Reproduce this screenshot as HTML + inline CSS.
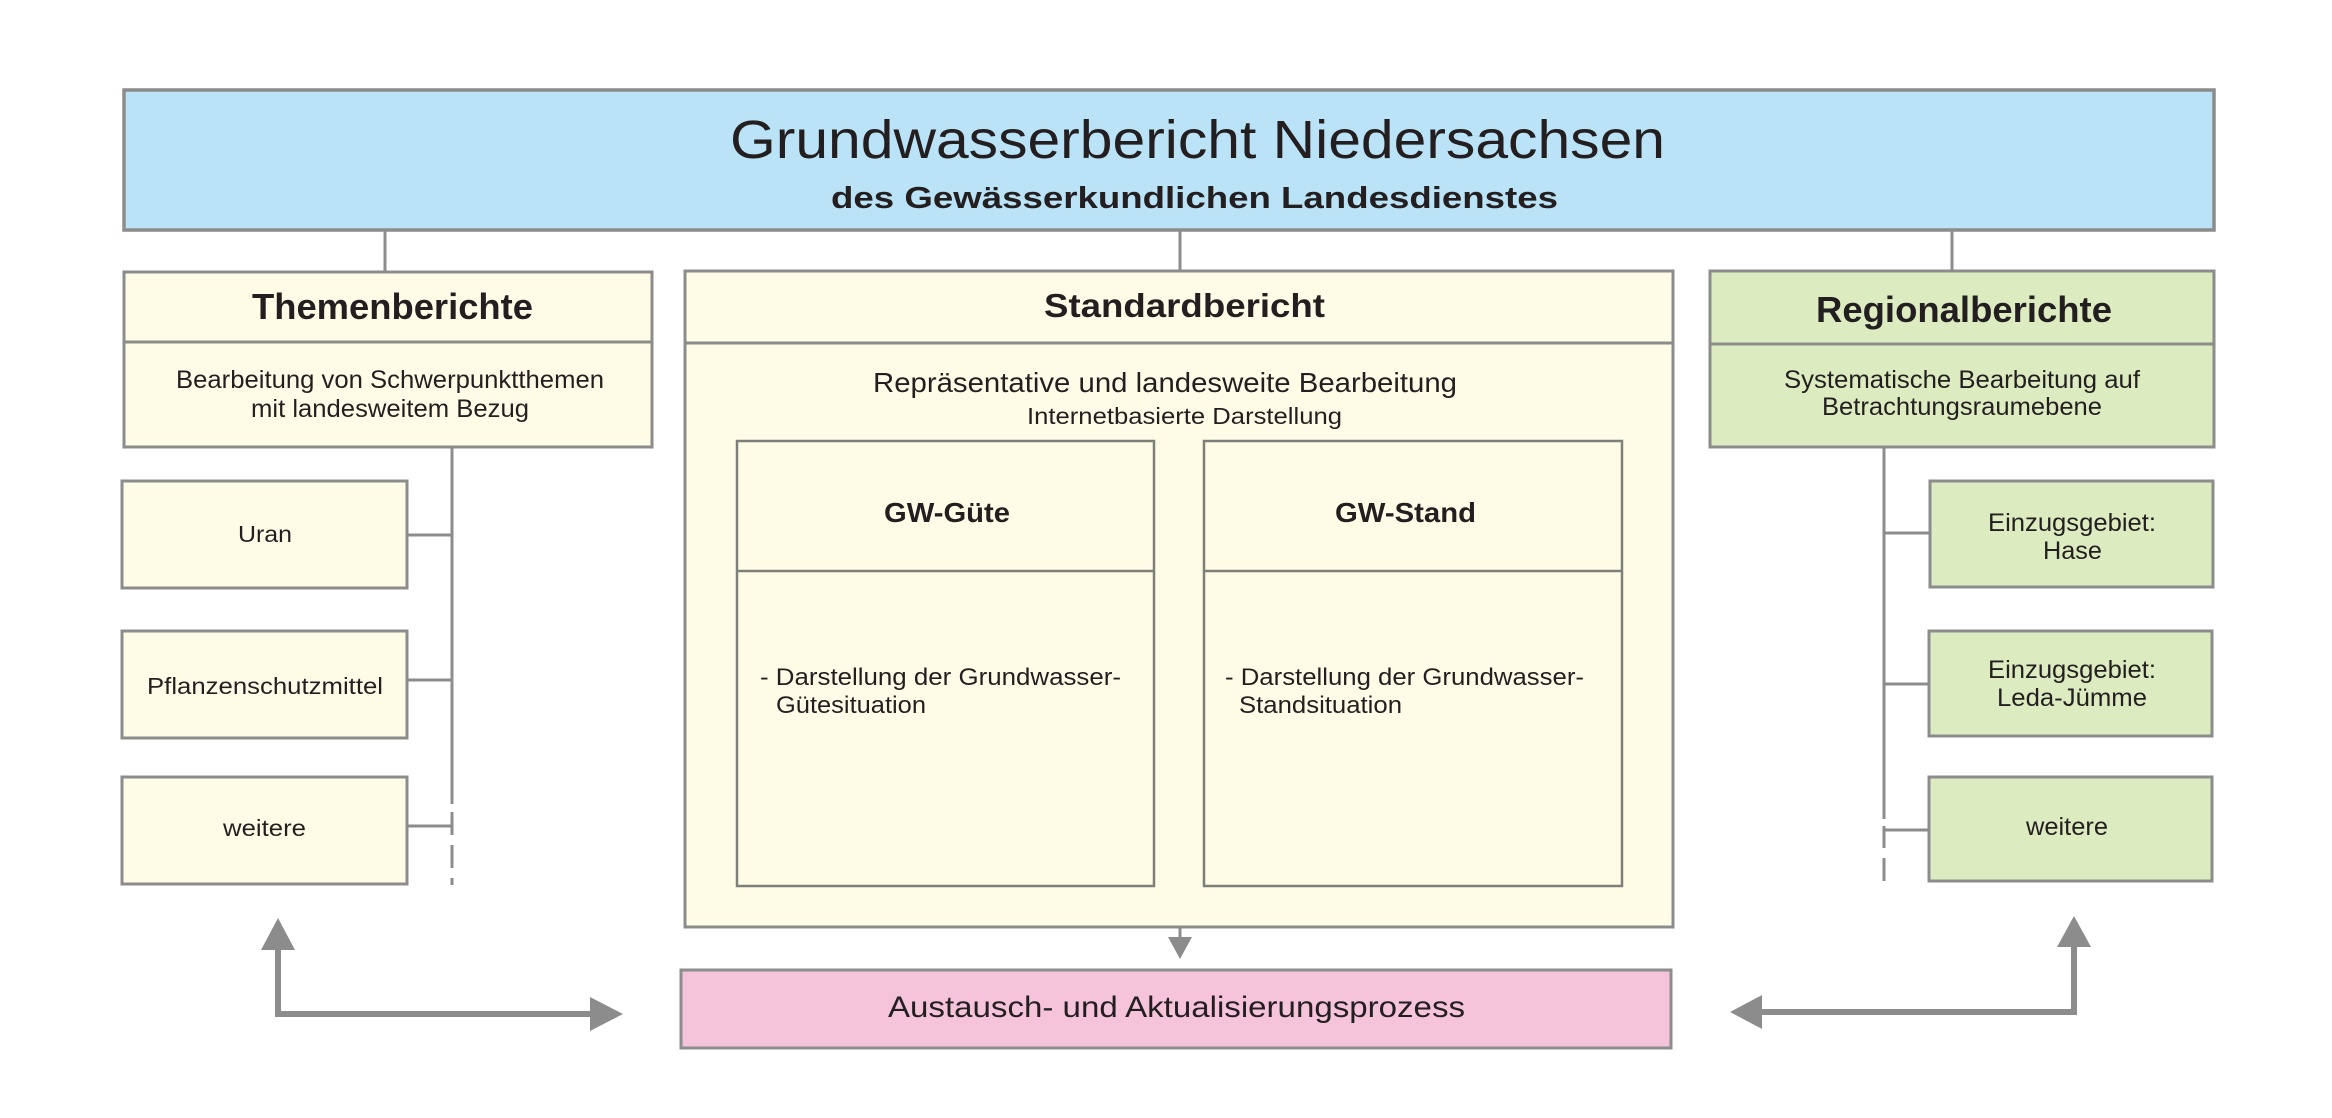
<!DOCTYPE html>
<html><head><meta charset="utf-8"><style>
html,body{margin:0;padding:0;background:#fff;}
svg{display:block;}
text{font-family:"Liberation Sans",Arial,sans-serif;fill:#231f20;}
</style></head><body>
<svg width="2332" height="1118" viewBox="0 0 2332 1118" xmlns="http://www.w3.org/2000/svg">
<g stroke="#8c8c8c" stroke-width="3" fill="none">
<!-- connectors top -->
<line x1="385" y1="230" x2="385" y2="272"/>
<line x1="1180" y1="230" x2="1180" y2="271"/>
<line x1="1952" y1="230" x2="1952" y2="271"/>
<!-- left tree -->
<line x1="452" y1="447" x2="452" y2="804"/>
<line x1="452" y1="812" x2="452" y2="835"/>
<line x1="452" y1="845" x2="452" y2="868"/>
<line x1="452" y1="878" x2="452" y2="885"/>
<line x1="407" y1="535" x2="452" y2="535"/>
<line x1="407" y1="680" x2="452" y2="680"/>
<line x1="407" y1="826" x2="452" y2="826"/>
<!-- right tree -->
<line x1="1884" y1="447" x2="1884" y2="819"/>
<line x1="1884" y1="826" x2="1884" y2="848"/>
<line x1="1884" y1="858" x2="1884" y2="881"/>
<line x1="1884" y1="533" x2="1930" y2="533"/>
<line x1="1884" y1="684" x2="1929" y2="684"/>
<line x1="1884" y1="830" x2="1929" y2="830"/>
</g>
<!-- boxes -->
<rect x="124" y="90" width="2090" height="140" fill="#bbe3f7" stroke="#8c8c8c" stroke-width="3.5"/>
<rect x="124" y="272" width="528" height="175" fill="#fefce6" stroke="#8c8c8c" stroke-width="3"/>
<line x1="124" y1="342" x2="652" y2="342" stroke="#8c8c8c" stroke-width="3"/>
<rect x="685" y="271" width="988" height="656" fill="#fefce6" stroke="#8c8c8c" stroke-width="3"/>
<line x1="685" y1="343" x2="1673" y2="343" stroke="#8c8c8c" stroke-width="3"/>
<rect x="737" y="441" width="417" height="445" fill="#fefce6" stroke="#7f7f7a" stroke-width="2.5"/>
<line x1="737" y1="571" x2="1154" y2="571" stroke="#7f7f7a" stroke-width="2.5"/>
<rect x="1204" y="441" width="418" height="445" fill="#fefce6" stroke="#7f7f7a" stroke-width="2.5"/>
<line x1="1204" y1="571" x2="1622" y2="571" stroke="#7f7f7a" stroke-width="2.5"/>
<rect x="1710" y="271" width="504" height="176" fill="#dcebc0" stroke="#8c8c8c" stroke-width="3"/>
<line x1="1710" y1="344" x2="2214" y2="344" stroke="#8c8c8c" stroke-width="3"/>
<rect x="122" y="481" width="285" height="107" fill="#fefce6" stroke="#8c8c8c" stroke-width="3"/>
<rect x="122" y="631" width="285" height="107" fill="#fefce6" stroke="#8c8c8c" stroke-width="3"/>
<rect x="122" y="777" width="285" height="107" fill="#fefce6" stroke="#8c8c8c" stroke-width="3"/>
<rect x="1930" y="481" width="283" height="106" fill="#dcebc0" stroke="#8c8c8c" stroke-width="3"/>
<rect x="1929" y="631" width="283" height="105" fill="#dcebc0" stroke="#8c8c8c" stroke-width="3"/>
<rect x="1929" y="777" width="283" height="104" fill="#dcebc0" stroke="#8c8c8c" stroke-width="3"/>
<rect x="681" y="970" width="990" height="78" fill="#f5c3da" stroke="#8c8c8c" stroke-width="3"/>
<!-- arrows -->
<g stroke="#8c8c8c" stroke-width="6" fill="none">
<polyline points="278,945 278,1014 595,1014"/>
<polyline points="2074,945 2074,1012 1758,1012"/>
</g>
<line x1="1180" y1="927" x2="1180" y2="940" stroke="#8c8c8c" stroke-width="3"/>
<g fill="#8c8c8c">
<polygon points="278,918 261,950 295,950"/>
<polygon points="623,1014 590,997 590,1031"/>
<polygon points="2074,916 2057,947 2091,947"/>
<polygon points="1730,1012 1762,995 1762,1029"/>
<polygon points="1180,959 1168,937 1192,937"/>
</g>
<!-- texts -->
<text x="730" y="158" font-size="54" textLength="935" lengthAdjust="spacingAndGlyphs">Grundwasserbericht Niedersachsen</text>
<text x="831" y="208" font-size="31" font-weight="bold" textLength="727" lengthAdjust="spacingAndGlyphs">des Gewässerkundlichen Landesdienstes</text>
<text x="252" y="319" font-size="36" font-weight="bold" textLength="281" lengthAdjust="spacingAndGlyphs">Themenberichte</text>
<text x="176" y="388" font-size="25" textLength="428" lengthAdjust="spacingAndGlyphs">Bearbeitung von Schwerpunktthemen</text>
<text x="251" y="417" font-size="25" textLength="278" lengthAdjust="spacingAndGlyphs">mit landesweitem Bezug</text>
<text x="1044" y="317" font-size="33" font-weight="bold" textLength="281" lengthAdjust="spacingAndGlyphs">Standardbericht</text>
<text x="873" y="392" font-size="28" textLength="584" lengthAdjust="spacingAndGlyphs">Repräsentative und landesweite Bearbeitung</text>
<text x="1027" y="424" font-size="23" textLength="315" lengthAdjust="spacingAndGlyphs">Internetbasierte Darstellung</text>
<text x="884" y="522" font-size="28" font-weight="bold" textLength="126" lengthAdjust="spacingAndGlyphs">GW-Güte</text>
<text x="1335" y="522" font-size="28" font-weight="bold" textLength="141" lengthAdjust="spacingAndGlyphs">GW-Stand</text>
<text x="760" y="685" font-size="24" textLength="361" lengthAdjust="spacingAndGlyphs">- Darstellung der Grundwasser-</text>
<text x="776" y="713" font-size="24" textLength="150" lengthAdjust="spacingAndGlyphs">Gütesituation</text>
<text x="1225" y="685" font-size="24" textLength="359" lengthAdjust="spacingAndGlyphs">- Darstellung der Grundwasser-</text>
<text x="1239" y="713" font-size="24" textLength="163" lengthAdjust="spacingAndGlyphs">Standsituation</text>
<text x="888" y="1017" font-size="30" textLength="577" lengthAdjust="spacingAndGlyphs">Austausch- und Aktualisierungsprozess</text>
<text x="1816" y="322" font-size="36" font-weight="bold" textLength="296" lengthAdjust="spacingAndGlyphs">Regionalberichte</text>
<text x="1784" y="388" font-size="25" textLength="356" lengthAdjust="spacingAndGlyphs">Systematische Bearbeitung auf</text>
<text x="1822" y="415" font-size="25" textLength="280" lengthAdjust="spacingAndGlyphs">Betrachtungsraumebene</text>
<text x="1988" y="531" font-size="25" textLength="168" lengthAdjust="spacingAndGlyphs">Einzugsgebiet:</text>
<text x="2043" y="559" font-size="25" textLength="59" lengthAdjust="spacingAndGlyphs">Hase</text>
<text x="1988" y="678" font-size="25" textLength="168" lengthAdjust="spacingAndGlyphs">Einzugsgebiet:</text>
<text x="1997" y="706" font-size="25" textLength="150" lengthAdjust="spacingAndGlyphs">Leda-Jümme</text>
<text x="2026" y="835" font-size="25" textLength="82" lengthAdjust="spacingAndGlyphs">weitere</text>
<text x="238" y="542" font-size="23" textLength="54" lengthAdjust="spacingAndGlyphs">Uran</text>
<text x="147" y="694" font-size="23" textLength="236" lengthAdjust="spacingAndGlyphs">Pflanzenschutzmittel</text>
<text x="223" y="836" font-size="23" textLength="83" lengthAdjust="spacingAndGlyphs">weitere</text>
</svg>
</body></html>
